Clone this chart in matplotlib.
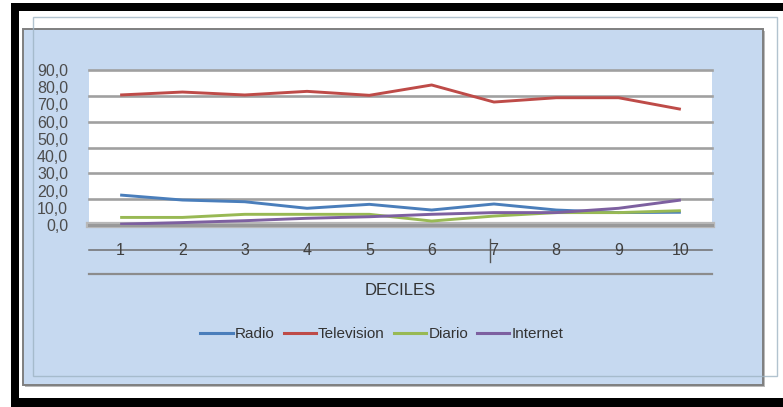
import matplotlib
matplotlib.use("Agg")
import matplotlib.pyplot as plt
import numpy as np
from matplotlib.lines import Line2D
from matplotlib.patches import Rectangle

plt.rcParams['font.family'] = ['Liberation Sans', 'DejaVu Sans']

# Share of households per media, by income decile
deciles = [1, 2, 3, 4, 5, 6, 7, 8, 9, 10]
radio = [17.4, 14.5, 13.5, 9.7, 12.0, 8.7, 12.2, 8.7, 7.2, 7.4]
television = [75.5, 77.2, 75.5, 77.6, 75.3, 81.3, 71.4, 73.9, 73.9, 67.2]
diario = [4.4, 4.4, 6.2, 6.2, 6.2, 2.3, 5.2, 7.2, 7.2, 8.3]
internet = [0.5, 1.4, 2.5, 3.9, 4.8, 6.2, 7.2, 7.2, 9.7, 14.5]

series_names = ['Radio', 'Television', 'Diario', 'Internet']
series_colors = ['#4A7EBB', '#BE4B48', '#98B954', '#7D60A0']
y_ticks = [0, 10, 20, 30, 40, 50, 60, 70, 80, 90]
grid_levels = [0, 15, 30, 45, 60, 75, 90]

W, H = 783, 407
fig = plt.figure(figsize=(W / 100, H / 100), dpi=100)
fig.patch.set_facecolor('white')


def px_rect(x0, y0, x1, y1, **kw):
    # rectangle given in pixel coordinates, origin top-left
    return Rectangle((x0 / W, 1 - y1 / H), (x1 - x0) / W, (y1 - y0) / H,
                     transform=fig.transFigure, **kw)


# black screen border
for box in [(11, 3, W + 5, 11), (11, 3, 19, H + 5), (11, 398, W + 5, H + 5)]:
    fig.patches.append(px_rect(*box, facecolor='black', edgecolor='none', zorder=-1))

# chart area with shadow
fig.patches.append(px_rect(25, 31, 765, 387, facecolor='#8c8c8c', edgecolor='none',
                           alpha=0.6, zorder=-4))
fig.patches.append(px_rect(23, 29, 763, 385, facecolor='#C6D9F0', edgecolor='#7f7f7f',
                           linewidth=1.4, zorder=-3))
# faint outline of the frame behind
fig.patches.append(px_rect(33, 17, 777, 376, facecolor='none', edgecolor='#9fb4c4',
                           linewidth=1.0, alpha=0.8, zorder=-2))

ax = fig.add_axes([89 / W, 1 - 225 / H, (712 - 89) / W, 155 / H])
ax.set_facecolor('white')
for s in ax.spines.values():
    s.set_visible(False)

for lvl in grid_levels:
    if lvl == 0:
        ax.axhline(lvl, color='#b8b8b8', linewidth=4.5, zorder=1, clip_on=False)
        ax.axhline(lvl, color='#999999', linewidth=2.2, zorder=1, clip_on=False)
    else:
        ax.axhline(lvl, color='#a0a0a0', linewidth=1.9, zorder=1, clip_on=False)

for name, vals, col in zip(series_names, [radio, television, diario, internet], series_colors):
    ax.plot(deciles, vals, color=col, linewidth=2.1, label=name, zorder=3,
            solid_capstyle='butt')

ax.set_xlim(0.5, 10.5)
ax.set_ylim(0, 90)
ax.set_yticks(y_ticks)
ax.set_yticklabels([f'{v:.1f}'.replace('.', ',') for v in y_ticks],
                   fontsize=11.5, color='#4d4d4d')
ax.tick_params(axis='y', length=0, pad=15)

ax.set_xticks(deciles)
ax.set_xticklabels([str(d) for d in deciles], fontsize=11.5, color='#404040')
ax.tick_params(axis='x', length=0, pad=13)

# category axis line drawn through the labels, and the lower rule
ax.plot([0, 1], [-0.161, -0.161], transform=ax.transAxes, color='#6f6f6f',
        linewidth=1.1, clip_on=False, zorder=0)
ax.plot([0, 1], [-0.316, -0.316], transform=ax.transAxes, color='#8c8c8c',
        linewidth=1.6, clip_on=False, zorder=0)
ax.plot([6.93, 6.93], [-0.09, -0.24], transform=ax.get_xaxis_transform(),
        color='#555555', linewidth=1.0, clip_on=False)

ax.set_xlabel('DECILES', fontsize=12, color='#333333', labelpad=18)

handles = [Line2D([], [], color=c, linewidth=2.2) for c in series_colors]
fig.legend(handles, series_names, loc='center', bbox_to_anchor=(382 / W, 1 - 334 / H),
           ncol=4, frameon=False, fontsize=11, handlelength=2.1, handletextpad=0.15,
           columnspacing=0.6, labelcolor='#333333')

fig.savefig('out.png', dpi=100)
